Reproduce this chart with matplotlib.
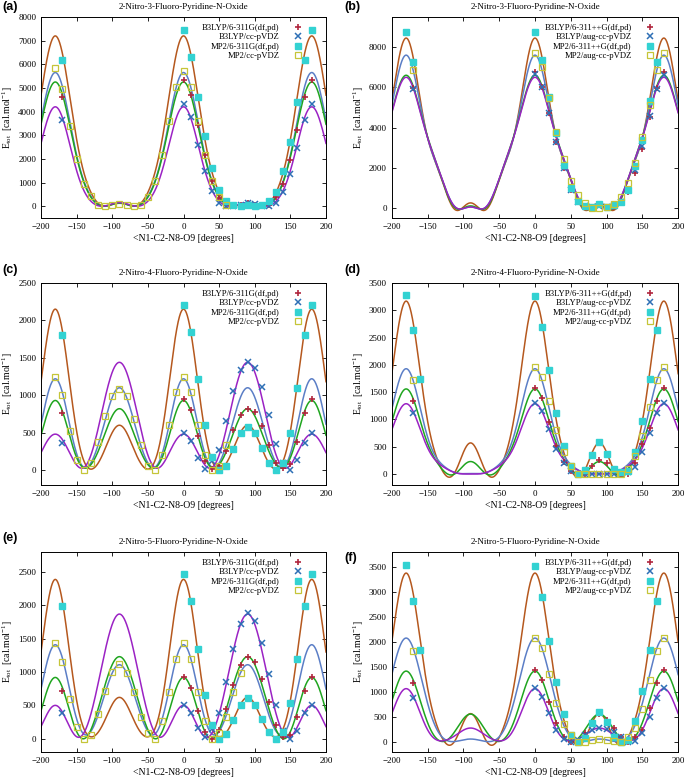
import numpy as np
import matplotlib
matplotlib.use('Agg')
import matplotlib.pyplot as plt

plt.rcParams['font.family'] = 'Liberation Serif'
plt.rcParams['mathtext.fontset'] = 'custom'
plt.rcParams['mathtext.rm'] = 'Liberation Serif'
plt.rcParams['mathtext.it'] = 'Liberation Serif:italic'

# computed dihedral angles (deg), values mirrored for negative angles
ANGLES = np.arange(0, 181, 10)

TITLES = ['2-Nitro-3-Fluoro-Pyridine-N-Oxide', '2-Nitro-3-Fluoro-Pyridine-N-Oxide',
          '2-Nitro-4-Fluoro-Pyridine-N-Oxide', '2-Nitro-4-Fluoro-Pyridine-N-Oxide',
          '2-Nitro-5-Fluoro-Pyridine-N-Oxide', '2-Nitro-5-Fluoro-Pyridine-N-Oxide']
LABELS_SMALL = ['B3LYP/6-311G(df,pd)', 'B3LYP/cc-pVDZ', 'MP2/6-311G(df,pd)', 'MP2/cc-pVDZ']
LABELS_BIG = ['B3LYP/6-311++G(df,pd)', 'B3LYP/aug-cc-pVDZ', 'MP2/6-311++G(df,pd)', 'MP2/aug-cc-pVDZ']

# energies (cal/mol) at ANGLES: B3LYP basis1 (+), B3LYP basis2 (x), MP2 basis1 (filled sq), MP2 basis2 (open sq)
PLUS_A = [5350, 4700, 3450, 2150, 1050, 350, 50, 0, 50, 120, 50, 0, 50, 400, 950, 1950, 3200, 4600, 5350]
X_A = [4300, 3750, 2600, 1500, 650, 150, 0, 0, 50, 150, 100, 0, 0, 150, 600, 1350, 2450, 3650, 4300]
CYAN_A = [7450, 6300, 4600, 2950, 1600, 700, 200, 30, 0, 50, 0, 30, 200, 600, 1500, 2700, 4400, 6200, 7450]
YEL_A = [5700, 5050, 3600, 2150, 1050, 400, 50, 0, 50, 100, 50, 0, 50, 450, 950, 2000, 3400, 4950, 5850]

PLUS_B = [6750, 6000, 4700, 3300, 2000, 900, 300, 50, 0, 150, 0, 50, 250, 800, 1750, 2950, 4500, 5950, 6750]
X_B = [6650, 6000, 4700, 3300, 2000, 900, 300, 100, 50, 100, 50, 100, 300, 900, 1900, 3100, 4550, 5900, 6600]
CYAN_B = [8750, 7350, 5500, 3750, 2150, 1000, 350, 100, 50, 200, 50, 150, 300, 900, 2100, 3400, 5300, 7250, 8750]
YEL_B = [7700, 7000, 5450, 3800, 2450, 1350, 650, 250, 0, 0, 50, 200, 550, 1250, 2250, 3550, 5100, 6850, 7700]

PLUS_C = [950, 800, 460, 120, 20, 60, 250, 530, 730, 810, 770, 590, 330, 100, 30, 80, 380, 760, 950]
X_C = [490, 390, 160, 10, 120, 270, 650, 1050, 1340, 1440, 1360, 1110, 740, 350, 100, 0, 140, 360, 490]
CYAN_C = [2200, 1850, 1220, 600, 170, 0, 60, 280, 500, 580, 500, 300, 100, 0, 100, 500, 1100, 1800, 2200]
YEL_C = [1240, 1040, 600, 200, 0, 50, 330, 680, 990, 1090, 990, 720, 380, 100, 0, 130, 520, 1000, 1240]

PLUS_D = [1570, 1390, 960, 520, 230, 60, 0, 0, 150, 250, 200, 80, 0, 0, 200, 550, 850, 1330, 1570]
X_D = [1300, 1150, 830, 460, 200, 50, 0, 0, 0, 0, 0, 0, 20, 40, 130, 400, 750, 1110, 1300]
CYAN_D = [3270, 2700, 1900, 1120, 520, 150, 0, 80, 350, 590, 370, 100, 30, 50, 400, 980, 1750, 2640, 3280]
YEL_D = [1960, 1770, 1330, 800, 400, 150, 0, 0, 0, 0, 0, 0, 0, 100, 330, 700, 1230, 1730, 1960]

PLUS_E = [930, 760, 410, 100, 0, 130, 450, 810, 1100, 1230, 1150, 890, 550, 210, 20, 50, 320, 710, 930]
X_E = [510, 380, 160, 20, 150, 380, 850, 1350, 1720, 1880, 1760, 1440, 970, 500, 120, 0, 110, 380, 510]
CYAN_E = [2470, 2060, 1340, 660, 200, 0, 70, 280, 500, 610, 510, 300, 100, 0, 100, 530, 1200, 1990, 2470]
YEL_E = [1430, 1200, 700, 260, 0, 85, 320, 700, 990, 1120, 1000, 720, 370, 50, 0, 175, 600, 1150, 1430]

PLUS_F = [1440, 1240, 800, 380, 100, 0, 0, 190, 390, 560, 450, 290, 100, 0, 100, 250, 680, 1190, 1440]
X_F = [1080, 900, 580, 240, 60, 0, 50, 150, 250, 280, 260, 200, 100, 0, 20, 180, 500, 880, 1080]
CYAN_F = [3520, 2900, 2030, 1200, 560, 150, 0, 80, 380, 610, 400, 100, 0, 50, 430, 1020, 1850, 2820, 3550]
YEL_F = [2090, 1880, 1360, 790, 370, 150, 0, 0, 50, 60, 50, 20, 0, 100, 280, 670, 1250, 1820, 2090]

# Fourier fit coefficients: E = c0 + c1 cos2t + c2 cos4t + c3 cos6t + c4 cos8t
# order per panel: brown (MP2 basis1), blue (MP2 basis2), green (B3LYP basis1), purple (B3LYP basis2)
FIT_A = [[2206, 3247, 1362, 277, 106], [1712, 2524, 1100, 226, 88],
         [1609, 2378, 1018, 186, 59], [1231, 1843, 888, 182, 56]]
FIT_B = [[2747, 3768, 1225, 332, 378], [2614, 3503, 962, 272, 249],
         [2445, 3188, 700, 62, 205], [2426, 3140, 662, 86, 186]]
FIT_C = [[661, 660, 668, 116, 46], [570, 2, 560, 58, 30],
         [429, 10, 422, 45, 24], [525, -480, 435, 0, 0]]
FIT_D = [[927, 1208, 825, 91, 118], [575, 840, 360, 120, 35],
         [481, 633, 358, 32, 56], [399, 566, 222, 78, 24]]
FIT_E = [[724, 750, 722, 135, 59], [635, 82, 600, 68, 25],
         [541, -216, 518, 60, 16], [679, -721, 492, 36, 14]]
FIT_F = [[996, 1318, 862, 88, 116], [620, 926, 435, 84, 15],
         [482, 392, 475, 38, 32], [326, 324, 322, 70, 26]]

FIT_COLORS = ['#b5581e', '#5b7ec6', '#1fa51f', '#9b22c4']
PLUS_C0, X_C0, CYAN_C0, YEL_C0 = '#b0263e', '#2d6fb5', '#33d2d2', '#c5c538'


def fourier(theta, c):
    t = np.radians(theta)
    return sum(ck * np.cos(2 * k * t) for k, ck in enumerate(c))


def pick(vals, angs):
    vals = np.array(vals, dtype=float)
    return np.array(angs), vals[np.abs(np.array(angs)) // 10]


def draw(ax, title, labels, series, fits, ylim, yticks, show):
    th = np.linspace(-200, 200, 1601)
    for c, col in zip(fits, FIT_COLORS):
        ax.plot(th, fourier(th, c), color=col, lw=1.1, zorder=2)
    plus, xx, cyan, yel = series
    styles = [
        (plus, dict(marker='+', ls='none', color=PLUS_C0, ms=5, mew=1.2)),
        (xx, dict(marker='x', ls='none', color=X_C0, ms=4, mew=1.1)),
        (cyan, dict(marker='s', ls='none', color=CYAN_C0, ms=4, mec=CYAN_C0)),
        (yel, dict(marker='s', ls='none', mfc='none', mec=YEL_C0, ms=4, mew=0.9)),
    ]
    for (vals, st), angs, lab in zip(styles, show, labels):
        a, v = pick(vals, angs)
        ax.plot(a, v, label=lab, zorder=3, **st)
    ax.set_xlim(-200, 200)
    ax.set_ylim(*ylim)
    ax.set_xticks(np.arange(-200, 201, 50))
    ax.set_yticks(yticks)
    ax.tick_params(direction='in', top=True, right=True, labelsize=6.5, length=3, width=0.6)
    for s in ax.spines.values():
        s.set_linewidth(0.7)
    ax.set_title(title, fontsize=6.5, pad=6)
    ax.set_xlabel('<N1-C2-N8-O9 [degrees]', fontsize=7, labelpad=2)
    ax.set_ylabel(r'E$_{\rm tot}$  [cal.mol$^{-1}$]', fontsize=7, labelpad=2)
    ax.legend(loc='upper right', bbox_to_anchor=(0.94, 0.995), frameon=False,
              markerfirst=False, fontsize=6.2, handlelength=1.2, handletextpad=1.5,
              labelspacing=0.15, borderaxespad=0.3)


fig = plt.figure(figsize=(6.85, 7.81), dpi=100)

full = list(range(0, 181, 10))
to170 = list(range(0, 171, 10))
left_all = list(range(-180, 0, 10))

panels = [
    ('(a)', [0.0599, 0.7209, 0.416, 0.2574], 0.991, LABELS_SMALL, (PLUS_A, X_A, CYAN_A, YEL_A), FIT_A,
     (-500, 8000), np.arange(0, 8001, 1000),
     [[-170] + full, [-170] + full, [-170] + full, left_all + list(range(0, 61, 10))]),
    ('(b)', [0.572, 0.7209, 0.418, 0.2574], 0.991, LABELS_BIG, (PLUS_B, X_B, CYAN_B, YEL_B), FIT_B,
     (-500, 9500), np.arange(0, 8001, 2000),
     [[-170] + full, [-170] + full, [-180, -170] + to170, [-170] + full]),
    ('(c)', [0.0599, 0.379, 0.416, 0.2586], 0.654, LABELS_SMALL, (PLUS_C, X_C, CYAN_C, YEL_C), FIT_C,
     (-200, 2500), np.arange(0, 2501, 500),
     [[-170] + full, [-170] + full, [-170] + full, left_all + list(range(0, 61, 10))]),
    ('(d)', [0.572, 0.379, 0.418, 0.2586], 0.654, LABELS_BIG, (PLUS_D, X_D, CYAN_D, YEL_D), FIT_D,
     (-200, 3500), np.arange(0, 3501, 500),
     [[-170] + full, [-170] + full, [-180, -170, -160] + to170, [-170] + full]),
    ('(e)', [0.0599, 0.0371, 0.416, 0.256], 0.311, LABELS_SMALL, (PLUS_E, X_E, CYAN_E, YEL_E), FIT_E,
     (-200, 2800), np.arange(0, 2501, 500),
     [[-170] + full, [-170] + full, [-170] + full, left_all + list(range(0, 81, 10))]),
    ('(f)', [0.572, 0.0371, 0.418, 0.256], 0.286, LABELS_BIG, (PLUS_F, X_F, CYAN_F, YEL_F), FIT_F,
     (-200, 3800), np.arange(0, 3501, 500),
     [[-170] + full, [-170] + full, [-180, -170, -160] + to170, [-170] + full]),
]

for i, (letter, rect, ly, labels, series, fits, ylim, yticks, show) in enumerate(panels):
    ax = fig.add_axes(rect)
    draw(ax, TITLES[i], labels, series, fits, ylim, yticks, show)
    lx = 0.003 if rect[0] < 0.3 else 0.503
    fig.text(lx, ly, letter, fontsize=9, fontweight='bold', family='Liberation Sans',
             ha='left', va='center')

fig.savefig('out.png', dpi=100)
